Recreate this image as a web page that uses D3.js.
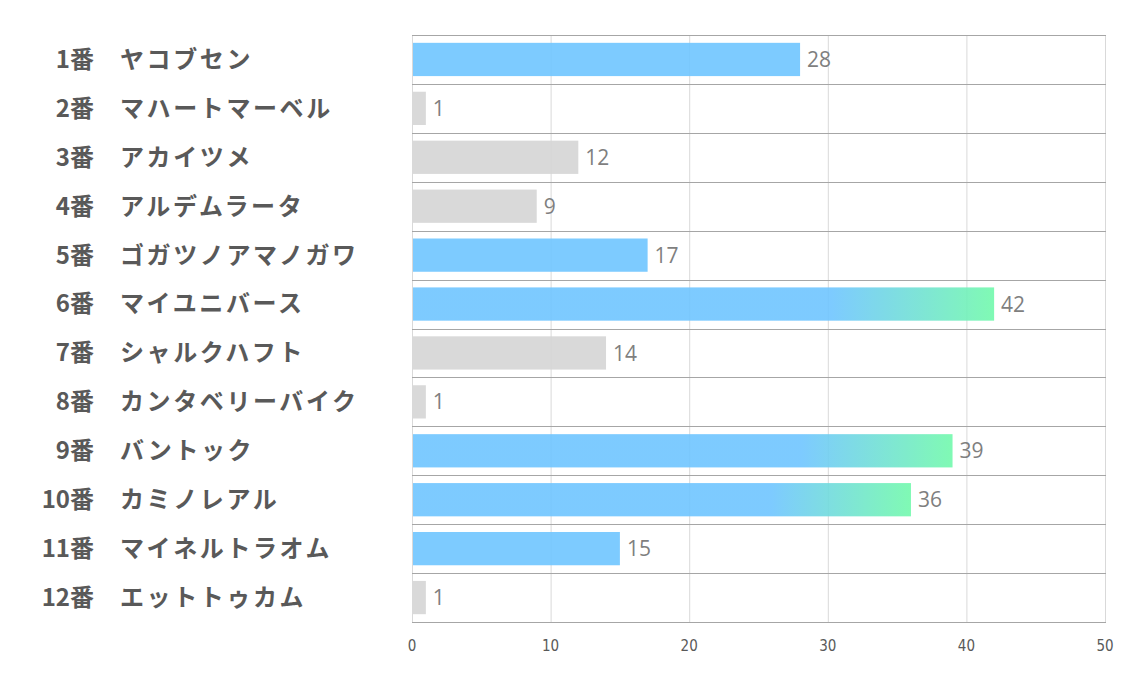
<!DOCTYPE html>
<html><head><meta charset="utf-8">
<script src="https://cdn.jsdelivr.net/npm/d3@7"></script>
<style>
html,body{margin:0;padding:0;background:#fff;}
svg{display:block;}
</style></head>
<body>
<svg id="chart" width="1134" height="680"></svg>
<script>
const numbers = ["1番","2番","3番","4番","5番","6番","7番","8番","9番","10番","11番","12番"];
const names = ["ヤコブセン","マハートマーベル","アカイツメ","アルデムラータ","ゴガツノアマノガワ","マイユニバース","シャルクハフト","カンタベリーバイク","バントック","カミノレアル","マイネルトラオム","エットトゥカム"];
const values = [28,1,12,9,17,42,14,1,39,36,15,1];
const kinds = ["blue","gray","gray","gray","blue","grad","gray","gray","grad","grad","blue","gray"];
const xTicks = [0,10,20,30,40,50];

(function(){
const svg = d3.select("#chart");
const pL = 412, pR = 1105, pT = 35, pB = 622;
const x = d3.scaleLinear().domain([0,50]).range([pL,pR]);
const y = d3.scaleBand().domain(d3.range(values.length)).range([pT,pB]).paddingInner(0.32).paddingOuter(0.16);
const rowY = d3.scaleBand().domain(d3.range(values.length)).range([pT,pB]);

const defs = svg.append("defs");
const grad = defs.append("linearGradient").attr("id","g1").attr("x1","0").attr("x2","1").attr("y1","0").attr("y2","0");
grad.append("stop").attr("offset","0.72").attr("stop-color","#6fc5ff");
grad.append("stop").attr("offset","1").attr("stop-color","#72f9ac");

// vertical grid
svg.append("g").selectAll("line").data(xTicks).join("line")
  .attr("x1",d=>x(d)+0.5).attr("x2",d=>x(d)+0.5).attr("y1",pT).attr("y2",pB)
  .attr("stroke","#d9d9d9").attr("stroke-width",1);

// bars (slightly translucent so the grid shows through)
svg.append("g").selectAll("rect").data(values).join("rect")
  .attr("x",x(0)+1).attr("y",(d,i)=>y(i)).attr("height",y.bandwidth())
  .attr("width",d=>x(d)-x(0)-1)
  .attr("fill-opacity",0.9)
  .attr("fill",(d,i)=>kinds[i]==="gray"?"#d5d5d5":kinds[i]==="blue"?"#6fc5ff":"url(#g1)");

// horizontal row lines
svg.append("g").selectAll("line").data(d3.range(values.length+1)).join("line")
  .attr("x1",pL).attr("x2",pR+1)
  .attr("y1",d=>Math.round(pT + d*rowY.step())+0.5).attr("y2",d=>Math.round(pT + d*rowY.step())+0.5)
  .attr("stroke","#a6a6a6").attr("stroke-width",1);

// value labels
svg.append("g").selectAll("text").data(values).join("text")
  .attr("x",d=>x(d)+7).attr("y",(d,i)=>y(i)+y.bandwidth()/2)
  .attr("dy","0.36em")
  .attr("font-family","'Open Sans', 'Noto Sans', sans-serif").attr("font-size",21)
  .attr("fill","#7f7f7f").text(d=>d);

// category labels
const lab = svg.append("g").attr("font-family","'Noto Sans CJK JP', sans-serif").attr("font-weight","bold").attr("font-size",24).attr("fill","#595959");
lab.selectAll("text.num").data(numbers).join("text").attr("class","num")
  .attr("x",94).attr("y",(d,i)=>rowY(i)+rowY.bandwidth()/2).attr("dy","0.35em")
  .attr("text-anchor","end").text(d=>d);
lab.selectAll("text.nm").data(names).join("text").attr("class","nm")
  .attr("x",120).attr("y",(d,i)=>rowY(i)+rowY.bandwidth()/2).attr("dy","0.35em")
  .attr("letter-spacing","2.6px")
  .text(d=>d);

// x axis tick labels
svg.append("g").selectAll("text").data(xTicks).join("text")
  .attr("x",d=>x(d)).attr("y",646).attr("dy","0.35em").attr("text-anchor","middle")
  .attr("font-family","'Liberation Sans Narrow','DejaVu Sans Condensed', sans-serif").attr("font-stretch","condensed")
  .attr("font-size",15).attr("fill","#595959").text(d=>d);
})();
</script>
</body></html>
